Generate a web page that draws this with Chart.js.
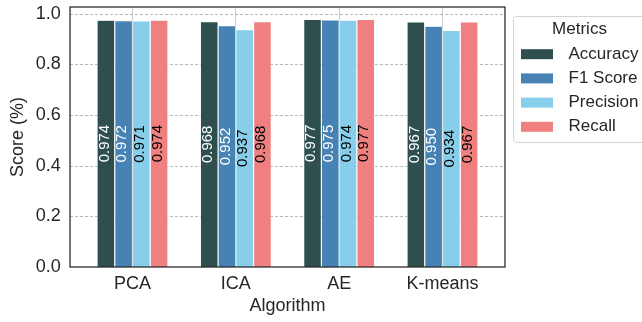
<!DOCTYPE html>
<html>
<head>
<meta charset="utf-8">
<script src="https://cdn.jsdelivr.net/npm/chart.js@4.4.0/dist/chart.umd.min.js"></script>
<style>
  html, body { margin: 0; padding: 0; background: #fff; }
  #wrap { width: 642px; height: 322px; }
</style>
</head>
<body>
<div id="wrap"><canvas id="chart" width="642" height="322"></canvas></div>
<script>
// 图表数据
const algorithms = ['PCA', 'ICA', 'AE', 'K-means'];
const metricNames = ['Accuracy', 'F1 Score', 'Precision', 'Recall'];
const accuracy = [0.974, 0.968, 0.977, 0.967];
const f1Score = [0.972, 0.952, 0.975, 0.950];
const precision = [0.971, 0.937, 0.974, 0.934];
const recall = [0.974, 0.968, 0.977, 0.967];
const yTicks = [0.0, 0.2, 0.4, 0.6, 0.8, 1.0];

// 样式
const FONT = '"Liberation Sans", Arial, sans-serif';
const TEXT = '#262626';
const barColors = ['#2F4F4F', '#4682B4', '#87CEEB', '#F08080'];
const labelColors = ['#ffffff', '#ffffff', '#000000', '#000000'];
const FRAME_INSET = 10.8; // 坐标框比绘图区多出的宽度

Chart.defaults.font.family = FONT;
Chart.defaults.color = TEXT;

// 横向虚线网格 + 边框 + 数值标签 + 图例
const framePlugin = {
    id: 'frame',
    beforeDatasetsDraw(chart) {
        const { ctx, chartArea, scales } = chart;
        const left = chartArea.left - FRAME_INSET;
        const right = chartArea.right + FRAME_INSET;
        ctx.save();
        ctx.strokeStyle = '#a8a8a8';
        ctx.lineWidth = 0.8;
        ctx.setLineDash([3, 2]);
        yTicks.forEach(function(v) {
            if (v === 0) return;
            const y = Math.round(scales.y.getPixelForValue(v)) + 0.5;
            ctx.beginPath();
            ctx.moveTo(left, y);
            ctx.lineTo(right, y);
            ctx.stroke();
        });
        ctx.restore();
    },
    afterDatasetsDraw(chart) {
        const { ctx, chartArea } = chart;
        // 柱内数值标签
        ctx.save();
        ctx.font = '15px ' + FONT;
        ctx.textAlign = 'center';
        ctx.textBaseline = 'middle';
        chart.data.datasets.forEach(function(ds, i) {
            const meta = chart.getDatasetMeta(i);
            meta.data.forEach(function(bar, j) {
                const cy = (bar.y + bar.base) / 2;
                ctx.save();
                ctx.translate(bar.x - 1.5, cy);
                ctx.rotate(-Math.PI / 2);
                ctx.fillStyle = labelColors[i];
                ctx.fillText(ds.data[j].toFixed(3), 0, 0);
                ctx.restore();
            });
        });
        // 边框
        ctx.strokeStyle = TEXT;
        ctx.lineWidth = 1.25;
        ctx.strokeRect(chartArea.left - FRAME_INSET, chartArea.top,
            chartArea.width + 2 * FRAME_INSET, chartArea.height);
        ctx.restore();
    },
    afterDraw(chart) {
        // 图例
        const { ctx } = chart;
        const x0 = 513.5, y0 = 16.5, w = 140, h = 126;
        ctx.save();
        ctx.beginPath();
        ctx.roundRect(x0, y0, w, h, 3);
        ctx.fillStyle = '#ffffff';
        ctx.fill();
        ctx.strokeStyle = '#d4d4d4';
        ctx.lineWidth = 1;
        ctx.stroke();
        ctx.fillStyle = TEXT;
        ctx.font = '17px ' + FONT;
        ctx.textBaseline = 'middle';
        ctx.textAlign = 'center';
        ctx.fillText('Metrics', 579.5, 29.5);
        ctx.textAlign = 'left';
        chart.data.datasets.forEach(function(ds, i) {
            const cy = 54.2 + i * 24.2;
            ctx.fillStyle = ds.backgroundColor;
            ctx.fillRect(521, cy - 5, 32, 10);
            ctx.fillStyle = TEXT;
            ctx.fillText(ds.label, 568.5, cy);
        });
        ctx.restore();
    }
};

const seriesValues = [accuracy, f1Score, precision, recall];

new Chart(document.getElementById('chart'), {
    type: 'bar',
    data: {
        labels: algorithms,
        datasets: metricNames.map(function(name, i) {
            return {
                label: name,
                data: seriesValues[i],
                backgroundColor: barColors[i],
                borderColor: '#ffffff',
                borderWidth: 0.6,
                categoryPercentage: 0.687,
                barPercentage: 1.0
            };
        })
    },
    options: {
        responsive: false,
        animation: false,
        layout: { padding: { left: 0, right: 147.83, top: 7, bottom: 0 } },
        plugins: {
            legend: { display: false },
            tooltip: { enabled: false }
        },
        scales: {
            x: {
                grid: { offset: false, color: '#cccccc', lineWidth: 1, drawTicks: false },
                border: { display: false },
                ticks: { padding: 6.7, font: { size: 18 }, color: TEXT },
                title: { display: true, text: 'Algorithm', font: { size: 18 }, color: TEXT,
                         padding: { top: 0, bottom: 5 } },
                afterFit: function(scale) {
                    scale.height = 55;
                    scale.paddingLeft = 0;
                    scale.paddingRight = 0;
                }
            },
            y: {
                min: 0,
                max: 1.026,
                grid: { display: false, drawTicks: false },
                border: { display: false },
                afterBuildTicks: function(scale) {
                    scale.ticks = yTicks.map(function(v) { return { value: v }; });
                },
                ticks: {
                    padding: 20,
                    font: { size: 18 },
                    color: TEXT,
                    callback: function(value) { return value.toFixed(1); }
                },
                title: { display: true, text: 'Score (%)', font: { size: 18 }, color: TEXT,
                         padding: { top: 7.3, bottom: 0 } },
                afterFit: function(scale) {
                    scale.width = 80.83;
                    scale.paddingTop = 0;
                    scale.paddingBottom = 0;
                }
            }
        }
    },
    plugins: [framePlugin]
});
</script>
</body>
</html>
